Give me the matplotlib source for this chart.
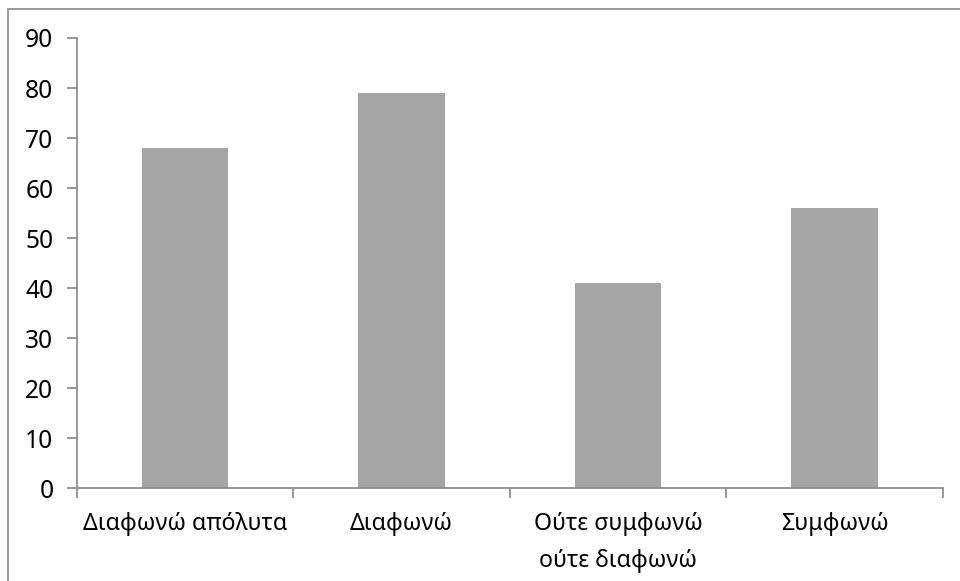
import matplotlib
matplotlib.use('Agg')
import matplotlib.pyplot as plt
from matplotlib.patches import Rectangle

# answers per response category
categories = ['Διαφωνώ απόλυτα', 'Διαφωνώ', 'Ούτε συμφωνώ\nούτε διαφωνώ', 'Συμφωνώ']
counts = [68, 79, 41, 56]
yTicks = [0, 10, 20, 30, 40, 50, 60, 70, 80, 90]

BAR_COLOR = '#A5A5A5'
AXIS_COLOR = '#868686'
FONT_SIZE = 16.7

plt.rcParams['font.family'] = ['Noto Sans', 'DejaVu Sans']

fig = plt.figure(figsize=(9.6, 5.81), dpi=100)
ax = fig.add_axes([0.0802, 0.160, 0.9018, 0.7746])

positions = range(len(categories))
ax.bar(positions, counts, width=0.4, color=BAR_COLOR, zorder=2)

ax.set_xlim(-0.5, len(categories) - 0.5)
ax.set_ylim(0, 90)
ax.set_yticks(yTicks)
ax.set_yticklabels([str(t) for t in yTicks], fontsize=FONT_SIZE + 1)

# category labels sit between the boundary ticks
ax.set_xticks([i - 0.5 for i in range(len(categories) + 1)])
ax.set_xticklabels([])
ax.set_xticks(list(positions), minor=True)
ax.set_xticklabels(categories, minor=True, fontsize=FONT_SIZE, linespacing=1.75)
ax.tick_params(axis='x', which='minor', length=0, pad=17)
ax.tick_params(axis='x', which='major', length=7, color=AXIS_COLOR, width=1.2)
ax.tick_params(axis='y', length=7, color=AXIS_COLOR, width=1.2, pad=10)

for side in ['top', 'right']:
    ax.spines[side].set_visible(False)
for side in ['left', 'bottom']:
    ax.spines[side].set_color(AXIS_COLOR)
    ax.spines[side].set_linewidth(1.2)

# outer chart frame, cut off on the right and bottom
frame = Rectangle((8 / 960, -0.1), 1.2, 1 - 9 / 581 + 0.1, transform=fig.transFigure,
                  fill=False, edgecolor='#878787', linewidth=1.2)
fig.patches.append(frame)

fig.savefig('out.png', dpi=100)
